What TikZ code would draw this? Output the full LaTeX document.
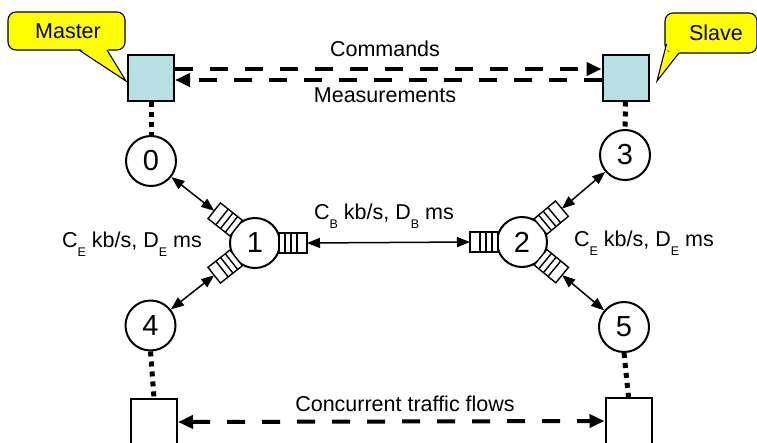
\documentclass[tikz,border=0pt]{standalone}
\usepackage{fontspec}
\setmainfont{Liberation Sans}
\usetikzlibrary{arrows.meta,calc}
\definecolor{callout}{HTML}{FFFF00}
\definecolor{ctrlfill}{HTML}{B8DFE2}
\newcommand{\sub}[1]{\raisebox{-0.4em}{\fontsize{12.5}{12.5}\selectfont #1}}
\tikzset{
  bigtip/.tip={Triangle[length=15pt,width=13pt]},
  smalltip/.tip={Triangle[length=13pt,width=10pt]}
}
\begin{document}
\begin{tikzpicture}[x=1pt,y=-1pt,
  circ/.style={circle,draw,line width=2pt,minimum size=50pt,inner sep=0pt,font=\fontsize{29}{29}\selectfont},
  sq/.style={draw,line width=2pt,minimum size=46pt,inner sep=0pt},
  ctrl/.style={sq,fill=ctrlfill},
  lbl/.style={font=\fontsize{21.5}{24}\selectfont,inner sep=0pt},
  calloutbox/.style={draw,line width=1.1pt,fill=callout,rounded corners=8pt,inner sep=0pt},
  dotline/.style={line width=5pt,dash pattern=on 5pt off 5pt},
  bigdash/.style={line width=4pt,dash pattern=on 18pt off 17pt},
  link/.style={line width=1.5pt,smalltip-smalltip},
  qbox/.style={draw,line width=1.4pt,fill=white}
]
\useasboundingbox (0,0) rectangle (757,442);

% callouts
\node[calloutbox,minimum width=117pt,minimum height=38pt] (mcall) at (66.5,31) {};
\fill[callout] (79,48) -- (107,48) -- (126,81) -- cycle;
\draw[line width=1.1pt,line join=miter] (79,50) -- (126,81) -- (107,50);
\node[lbl] at (68,31) {Master};

\node[calloutbox,minimum width=92pt,minimum height=40pt] (scall) at (711,33) {};
\fill[callout] (667.5,43) -- (667.5,51.5) -- (680,51.5) -- (657,81) -- cycle;
\draw[line width=1.1pt,line join=miter] (666.5,44) -- (657,81) -- (679,53);
\node[lbl] at (716,33) {Slave};

% control squares
\node[ctrl] (master) at (151,77.5) {};
\node[ctrl] (slave) at (625.5,77.5) {};
\node[sq] (lsink) at (154,422) {};
\node[sq] (rsink) at (628.5,421) {};

% routers
\node[circ] (n0) at (151,161) {0};
\node[circ] (n3) at (625,155) {3};
\node[circ] (n1) at (255,243) {1};
\node[circ] (n2) at (522,242) {2};
\node[circ] (n4) at (150.5,325.5) {4};
\node[circ] (n5) at (624,327) {5};

% queues
\foreach \c/\a/\nm in {n1/141.7/q1a, n1/218.3/q1b, n1/0/q1c, n2/180/q2a, n2/39.9/q2b, n2/-39.5/q2c}{
  \begin{scope}[shift={(\c)},rotate=\a]
    \draw[qbox] (24,-10) rectangle (52,10);
    \draw[line width=1.4pt] (30,-10) -- (30,10) (36,-10) -- (36,10) (42,-10) -- (42,10);
    \coordinate (\nm) at (52,0);
  \end{scope}
}

% links
\draw[link] (n0) -- (q1a);
\draw[link] (n4) -- (q1b);
\draw[link] (q1c) -- (q2a);
\draw[link] (n3) -- (q2b);
\draw[link] (n5) -- (q2c);

% dotted access lines
\draw[dotline] (master.south) -- (n0.north);
\draw[dotline] (slave.south) -- (n3.north);
\draw[dotline] (n4.south) -- (lsink.north);
\draw[dotline] (n5.south) -- (rsink.north);

% dashed flows
\draw[bigdash,-bigtip] ($(master.east)+(0,-8.5)$) -- ($(slave.west)+(0,-8.5)$);
\draw[bigdash,-bigtip] ($(slave.west)+(0,2.5)$) -- ($(master.east)+(0,2.5)$);
\draw[bigdash,bigtip-bigtip] (lsink.east) -- (rsink.west);

% labels
\node[lbl] at (385,49) {Commands};
\node[lbl] at (385,95) {Measurements};
\node[lbl] at (384,216) {C\sub{B} kb/s, D\sub{B} ms};
\node[lbl] at (132,244) {C\sub{E} kb/s, D\sub{E} ms};
\node[lbl] at (644,243) {C\sub{E} kb/s, D\sub{E} ms};
\node[lbl] at (405,404) {Concurrent traffic flows};
\end{tikzpicture}
\end{document}
